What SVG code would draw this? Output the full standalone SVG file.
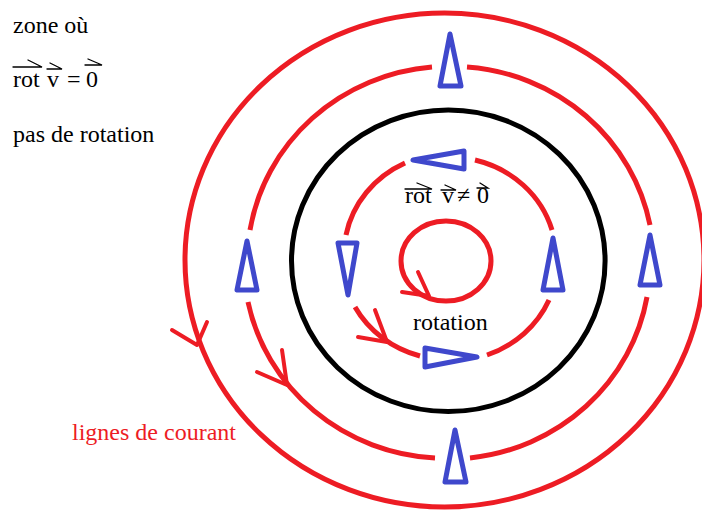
<svg xmlns="http://www.w3.org/2000/svg" width="702" height="515" viewBox="0 0 702 515">
<style>
.red{fill:none;stroke:#ED1C24;stroke-width:5;stroke-linecap:butt}
.arr{fill:none;stroke:#ED1C24;stroke-width:4;stroke-linecap:round;stroke-linejoin:round}
.blk{fill:none;stroke:#000;stroke-width:5}
.tri{fill:none;stroke:#3F48CC;stroke-width:5;stroke-linejoin:round;stroke-linecap:round}
.txt{font-family:"Liberation Serif","Times New Roman",serif;font-size:24px;fill:#000}
.vec{fill:none;stroke:#000;stroke-width:1.3;stroke-linecap:round}
</style>
<rect width="702" height="515" fill="#fff"/>
<g id="outer-streamline">
<ellipse class="red" cx="444.5" cy="260" rx="259.5" ry="247"/>
</g>
<g id="middle-streamline">
<path class="red" d="M467 67 A202 196 0 0 1 650 225"/>
<path class="red" d="M647 297 A202 196 0 0 1 470 458"/>
<path class="red" d="M435 458 A202 196 0 0 1 248 302"/>
<path class="red" d="M250 230 A202 196 0 0 1 432 67"/>
</g>
<g id="vortex-boundary">
<ellipse class="blk" cx="448.3" cy="260.8" rx="156.8" ry="150.8"/>
</g>
<g id="inner-streamline">
<path class="red" d="M475 160 A107 101 0 0 1 552 230"/>
<path class="red" d="M549 300 A107 101 0 0 1 487 355"/>
<path class="red" d="M420 356 A107 101 0 0 1 355 307"/>
<path class="red" d="M346 235 A107 101 0 0 1 405 163"/>
</g>
<g id="core-streamline">
<ellipse class="red" cx="446" cy="261" rx="45" ry="40"/>
</g>
<g id="connectors">
<path class="arr" d="M172 330 L197 345 L207 322"/>
<path class="arr" d="M257 372 L287 385 L282 350"/>
<path class="arr" d="M358 337 L387 342 L375 310"/>
<path class="arr" d="M402 292 L429 296 L418 272"/>
</g>
<g id="velocity-markers">
<path class="tri" d="M450 34 L440 86 L461 86 Z"/>
<path class="tri" d="M455 430 L445 482 L466 482 Z"/>
<path class="tri" d="M247 241 L237 290 L257 290 Z"/>
<path class="tri" d="M650 235 L640 285 L660 285 Z"/>
<path class="tri" d="M413 160 L464 151 L464 169 Z"/>
<path class="tri" d="M338 243 L357 243 L348 295 Z"/>
<path class="tri" d="M553 238 L543 290 L563 290 Z"/>
<path class="tri" d="M425 348 L425 367 L477 357 Z"/>
</g>
<g id="label-zone">
<text class="txt" x="13" y="33">zone où</text>
<text class="txt" y="87"><tspan x="13">rot</tspan><tspan x="47">v</tspan><tspan x="67">=</tspan><tspan x="86">0</tspan></text>
<path class="vec" d="M13 67 H42 L28 60 M47 69 H62 L50 63 M85 65 H102 L88 59"/>
<text class="txt" x="13" y="142">pas de rotation</text>
</g>
<g id="label-rotation">
<text class="txt" y="203"><tspan x="405">rot</tspan><tspan x="442">v</tspan><tspan x="457">≠</tspan><tspan x="477">0</tspan></text>
<path class="vec" d="M405 189 H432 L417 183 M441 190 H456 L445 185 M477 188 H488 L480 183"/>
<text class="txt" x="413" y="330">rotation</text>
</g>
<g id="label-streamlines">
<text class="txt" x="72" y="440" style="fill:#ED1C24">lignes de courant</text>
</g>
</svg>
